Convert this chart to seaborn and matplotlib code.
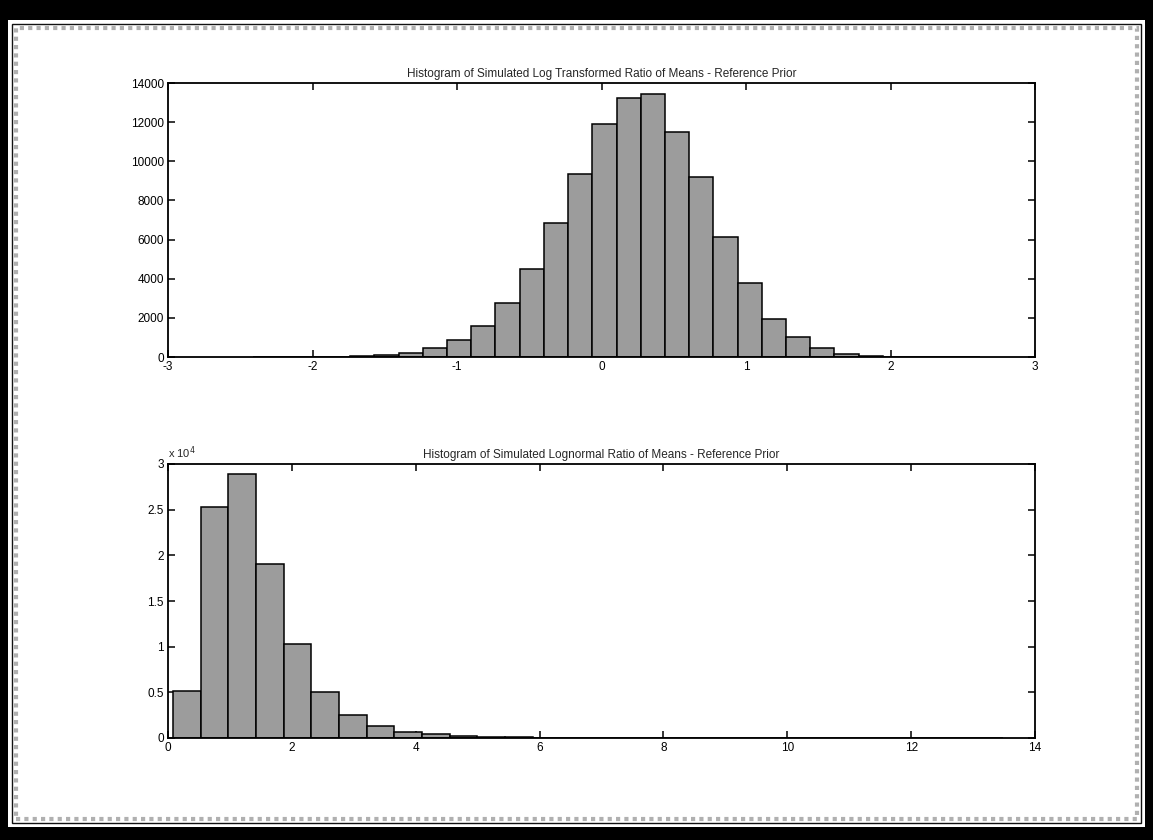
import numpy as np
import pandas as pd
import matplotlib
matplotlib.use("Agg")
import matplotlib.pyplot as plt
from matplotlib.patches import Rectangle
from matplotlib.ticker import FuncFormatter, FixedLocator
import seaborn as sns

# ---------------- data ----------------
top_title = "Histogram of Simulated Log Transformed Ratio of Means - Reference Prior"
bot_title = "Histogram of Simulated Lognormal Ratio of Means - Reference Prior"

top_bin_start = -2.41
top_bin_width = 0.1676
top_counts = [2, 3, 9, 21, 51, 119, 222, 460, 852, 1586,
              2762, 4518, 6854, 9343, 11918, 13214, 13436, 11509, 9207, 6138,
              3768, 1961, 1040, 477, 170, 51, 15, 5, 2, 1]

bot_bin_start = 0.08
bot_bin_width = 0.447
bot_counts = [5200, 25300, 28900, 19100, 10300, 5070, 2520, 1290, 650, 430,
              250, 145, 70, 40, 25, 15, 10, 8, 5, 4,
              3, 2, 1, 1, 0, 0, 1, 1, 0, 1]

top_xticks = [-3, -2, -1, 0, 1, 2, 3]
top_yticks = [0, 2000, 4000, 6000, 8000, 10000, 12000, 14000]
bot_xticks = [0, 2, 4, 6, 8, 10, 12, 14]
bot_yticks = [0, 5000, 10000, 15000, 20000, 25000, 30000]

# ---------------- style ----------------
sns.set_style("ticks")
plt.rcParams['font.family'] = ['Liberation Sans', 'DejaVu Sans']

W, H = 1153, 840
fig = plt.figure(figsize=(W / 100, H / 100), dpi=100)
fig.patch.set_facecolor("black")

# scanned window frame
fig.add_artist(Rectangle((8 / W, 1 - 827 / H), (1145 - 8) / W, (827 - 20) / H,
                         transform=fig.transFigure, facecolor="white",
                         edgecolor="none", zorder=0))
fig.add_artist(Rectangle((12 / W, 1 - 823 / H), (1141 - 12) / W, (823 - 24) / H,
                         transform=fig.transFigure, facecolor="none",
                         edgecolor="#111111", lw=1.0, zorder=0.5))
fig.add_artist(Rectangle((16 / W, 1 - 819 / H), (1137 - 16) / W, (819 - 28) / H,
                         transform=fig.transFigure, facecolor="none",
                         edgecolor="#b0b0b0", lw=3.0, linestyle=(0, (1, 1)),
                         zorder=0.5))

def make_axes(top_px, bottom_px):
    left = 168 / W
    right = 1035 / W
    return fig.add_axes([left, 1 - bottom_px / H, right - left, (bottom_px - top_px) / H])

ax1 = make_axes(83, 357)
ax2 = make_axes(464, 738)

def draw(ax, start, width, counts):
    n = len(counts)
    centers = start + width * (np.arange(n) + 0.5)
    df = pd.DataFrame({"x": centers, "w": counts})
    sns.histplot(data=df, x="x", weights="w", binwidth=width,
                 binrange=(start, start + n * width), ax=ax,
                 color="#9c9c9c", edgecolor="black", linewidth=1.1,
                 alpha=1.0, zorder=2)

draw(ax1, top_bin_start, top_bin_width, top_counts)
draw(ax2, bot_bin_start, bot_bin_width, bot_counts)

for ax in (ax1, ax2):
    ax.set_facecolor("white")
    ax.set_xlabel("")
    ax.set_ylabel("")
    for s in ax.spines.values():
        s.set_visible(True)
        s.set_linewidth(1.3)
        s.set_color("black")
        s.set_zorder(3)
    ax.tick_params(direction="in", top=True, right=True, length=5, width=1.1,
                   labelsize=8.5, colors="black", pad=3)

ax1.set_xlim(-3, 3)
ax1.set_ylim(0, 14000)
ax1.xaxis.set_major_locator(FixedLocator(top_xticks))
ax1.yaxis.set_major_locator(FixedLocator(top_yticks))
ax1.xaxis.set_major_formatter(FuncFormatter(lambda v, p: f"{v:g}"))
ax1.yaxis.set_major_formatter(FuncFormatter(lambda v, p: f"{v:g}"))
ax1.set_title(top_title, fontsize=8.5, pad=4)

ax2.set_xlim(0, 14)
ax2.set_ylim(0, 30000)
ax2.xaxis.set_major_locator(FixedLocator(bot_xticks))
ax2.yaxis.set_major_locator(FixedLocator(bot_yticks))
ax2.xaxis.set_major_formatter(FuncFormatter(lambda v, p: f"{v:g}"))
ax2.yaxis.set_major_formatter(FuncFormatter(lambda v, p: f"{v / 1e4:g}"))
ax2.set_title(bot_title, fontsize=8.5, pad=4)
ax2.text(0.0, 1.01, r"x 10$^{4}$", transform=ax2.transAxes, fontsize=8,
         ha="left", va="bottom")

fig.savefig("out.png", dpi=100, facecolor=fig.get_facecolor())
